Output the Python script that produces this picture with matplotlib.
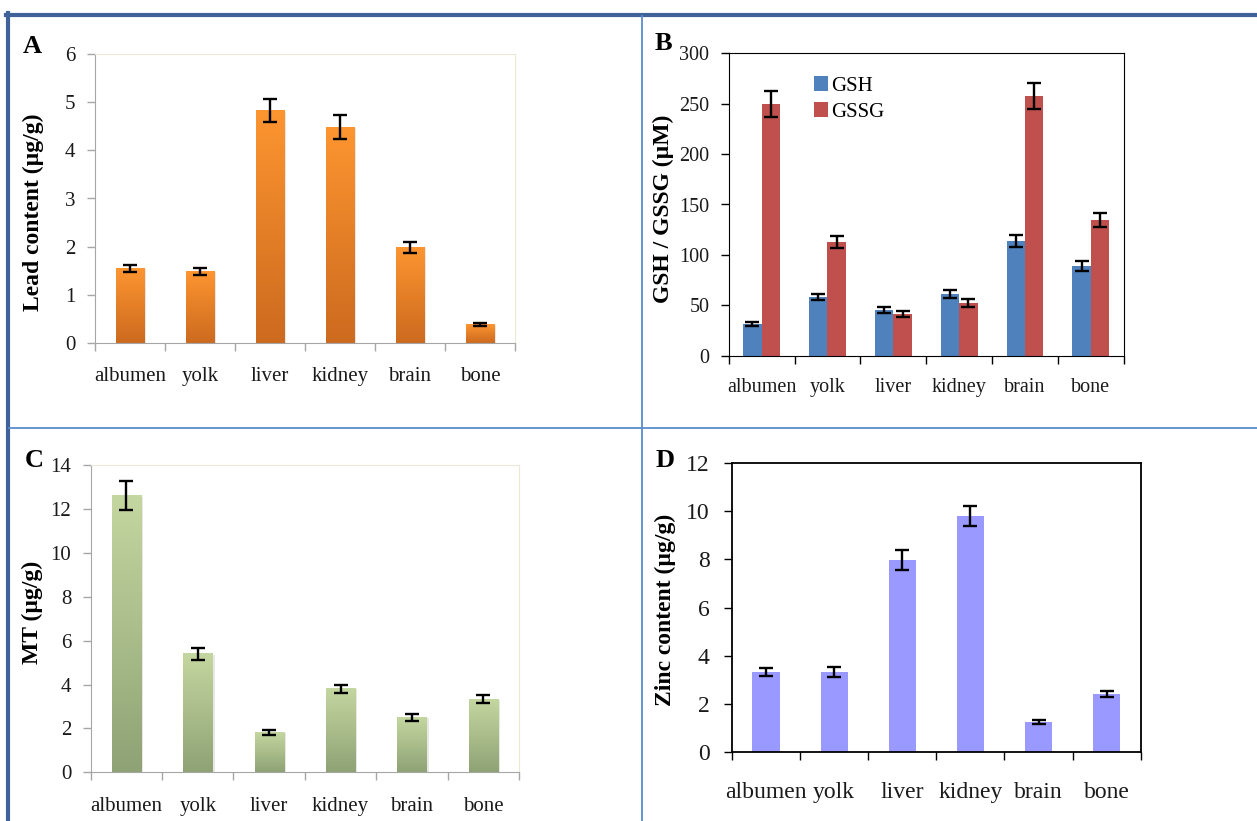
import numpy as np
import matplotlib.pyplot as plt
from matplotlib.colors import LinearSegmentedColormap
from matplotlib.lines import Line2D
from matplotlib.patches import Rectangle
from matplotlib.ticker import FixedLocator, NullFormatter

plt.rcParams['font.family'] = ['Liberation Serif', 'DejaVu Serif']

W, H = 1257, 821

tissues = ['albumen', 'yolk', 'liver', 'kidney', 'brain', 'bone']

lead = [1.55, 1.48, 4.82, 4.48, 1.98, 0.38]
lead_err = [0.07, 0.07, 0.24, 0.25, 0.12, 0.03]

gsh = [31, 58, 45, 61, 114, 89]
gsh_err = [2, 3, 3, 4, 6, 5]
gssg = [250, 113, 41, 52, 258, 135]
gssg_err = [13, 6, 3, 4, 13, 7]

mt = [12.6, 5.38, 1.82, 3.8, 2.5, 3.32]
mt_err = [0.65, 0.28, 0.1, 0.2, 0.15, 0.18]

zinc = [3.32, 3.32, 7.98, 9.8, 1.25, 2.4]
zinc_err = [0.18, 0.2, 0.4, 0.42, 0.08, 0.13]


def px(x0, y0, x1, y1):
    # pixel box (top-left origin) -> figure fraction rect
    return [x0 / W, 1 - y1 / H, (x1 - x0) / W, (y1 - y0) / H]


def setup_x(ax, fs, pad, tick_color):
    x = np.arange(len(tissues))
    ax.set_xlim(-0.5, len(tissues) - 0.5)
    ax.set_xticks(x)
    ax.set_xticklabels(tissues, fontsize=fs)
    ax.tick_params(axis='x', which='major', length=0, pad=pad)
    ax.xaxis.set_minor_locator(FixedLocator(np.arange(-0.5, len(tissues), 1.0)))
    ax.xaxis.set_minor_formatter(NullFormatter())
    ax.tick_params(axis='x', which='minor', length=6, width=1, color=tick_color, direction='out')


def gradient_bars(ax, vals, errs, width, c_bottom, c_top):
    cmap = LinearSegmentedColormap.from_list('g', [c_bottom, c_top])
    grad = np.linspace(0, 1, 256).reshape(-1, 1)
    x = np.arange(len(vals))
    for xi, v in zip(x, vals):
        # soft drop shadow on the right
        ax.add_patch(Rectangle((xi - width / 2 + 0.03, 0), width, v * 0.995,
                               facecolor='#7f7f7f', alpha=0.18, edgecolor='none', zorder=1))
        ax.imshow(grad, extent=[xi - width / 2, xi + width / 2, 0, v], origin='lower',
                  cmap=cmap, aspect='auto', zorder=2, interpolation='bilinear')
    ax.errorbar(x, vals, yerr=errs, fmt='none', ecolor='black', elinewidth=1.7,
                capsize=5, capthick=1.7, zorder=4)


fig = plt.figure(figsize=(W / 100, H / 100), dpi=100)

# panel A: lead
axA = fig.add_axes(px(95, 54, 515, 343))
gradient_bars(axA, lead, lead_err, 0.41, '#cc6a1f', '#fd9530')
axA.set_ylim(0, 6)
axA.set_yticks(range(0, 7))
setup_x(axA, 15, 17, '#a6a6a6')
axA.tick_params(axis='y', length=6, width=1, color='#a6a6a6', labelsize=15, pad=8)
for s in ['left', 'bottom']:
    axA.spines[s].set_color('#a6a6a6')
for s in ['top', 'right']:
    axA.spines[s].set_color('#ebe8d6')

# panel B: GSH / GSSG
axB = fig.add_axes(px(728.7, 53.3, 1123.7, 355.7))
xb = np.arange(len(tissues))
bw = 0.28
axB.bar(xb - bw / 2, gsh, bw, color='#4f81bd', label='GSH', zorder=2)
axB.bar(xb + bw / 2, gssg, bw, color='#c0504d', label='GSSG', zorder=2)
axB.errorbar(xb - bw / 2, gsh, yerr=gsh_err, fmt='none', ecolor='black', elinewidth=1.7,
             capsize=5, capthick=1.7, zorder=4)
axB.errorbar(xb + bw / 2, gssg, yerr=gssg_err, fmt='none', ecolor='black', elinewidth=1.7,
             capsize=5, capthick=1.7, zorder=4)
axB.set_ylim(0, 300)
axB.set_yticks(range(0, 301, 50))
setup_x(axB, 14.5, 16, 'black')
axB.tick_params(axis='y', length=6, width=1, labelsize=14.5, pad=8)
axB.legend(loc='upper left', bbox_to_anchor=(0.215, 0.925), frameon=False, fontsize=15,
           handlelength=0.7, handleheight=0.7, handletextpad=0.15, labelspacing=0.32,
           borderpad=0, borderaxespad=0)

# panel C: metallothionein
axC = fig.add_axes(px(90.7, 465, 519, 772.3))
gradient_bars(axC, mt, mt_err, 0.41, '#8fa275', '#c4d7a0')
axC.set_ylim(0, 14)
axC.set_yticks(range(0, 15, 2))
setup_x(axC, 15, 18, '#a6a6a6')
axC.tick_params(axis='y', length=6, width=1, color='#a6a6a6', labelsize=15, pad=8)
for s in ['left', 'bottom']:
    axC.spines[s].set_color('#a6a6a6')
for s in ['top', 'right']:
    axC.spines[s].set_color('#ebe8d6')

# panel D: zinc
axD = fig.add_axes(px(732, 463.3, 1140.7, 751.7))
axD.bar(np.arange(len(tissues)), zinc, 0.4, color='#9999ff', zorder=2)
axD.errorbar(np.arange(len(tissues)), zinc, yerr=zinc_err, fmt='none', ecolor='black',
             elinewidth=1.7, capsize=5, capthick=1.7, zorder=4)
axD.set_ylim(0, 12)
axD.set_yticks(range(0, 13, 2))
setup_x(axD, 17, 22, 'black')
axD.tick_params(axis='y', length=6, width=1, labelsize=17, pad=10)
for s in axD.spines.values():
    s.set_linewidth(1.3)

for ax in [axA, axB, axC, axD]:
    for lab in ax.get_xticklabels() + ax.get_yticklabels():
        lab.set_color('#1a1a1a')

# axis titles
ylabels = [
    (33, 212, 'Lead content (µg/g)'),
    (663, 209, 'GSH / GSSG (µM)'),
    (32, 612, 'MT (µg/g)'),
    (665, 610, 'Zinc content (µg/g)'),
]
for x, y, t in ylabels:
    fig.text(x / W, 1 - y / H, t, rotation=90, ha='center', va='center',
             fontsize=17, fontweight='bold')

# panel letters
for x, y, t in [(23, 53, 'A'), (655, 50, 'B'), (25, 467, 'C'), (656, 467, 'D')]:
    fig.text(x / W, 1 - y / H, t, ha='left', va='baseline', fontsize=19, fontweight='bold')

# frame and dividers
frame = '#3f6398'
div = '#5b8ccc'
fig.add_artist(Line2D([6 / W, 1.0], [1 - 15 / H] * 2, color=frame, lw=3, transform=fig.transFigure))
fig.add_artist(Line2D([8 / W] * 2, [0, 1 - 13 / H], color=frame, lw=3, transform=fig.transFigure))
fig.add_artist(Line2D([642 / W] * 2, [0, 1 - 16 / H], color=div, lw=1.3, transform=fig.transFigure))
fig.add_artist(Line2D([9 / W, 1.0], [1 - 428 / H] * 2, color=div, lw=1.3, transform=fig.transFigure))

fig.savefig('out.png', dpi=100)
